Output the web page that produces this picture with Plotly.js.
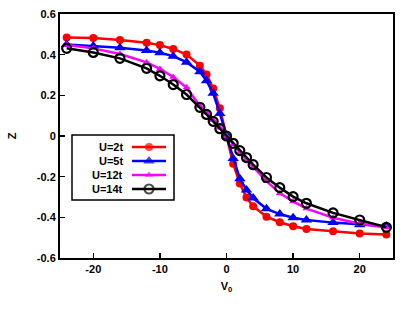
<!DOCTYPE html>
<html>
<head>
<meta charset="utf-8">
<script src="https://cdn.plot.ly/plotly-3.0.1.min.js"></script>
<style>html,body{margin:0;padding:0;background:#fff;}#chart{width:415px;height:310px;}</style>
</head>
<body>
<div id="chart"></div>
<script>
const V0 = [-24,-20,-16,-12,-10,-8,-6,-4,-3,-2,-1,0,1,2,3,4,6,8,10,12,16,20,24];
const zU2  = [0.485,0.482,0.472,0.459,0.447,0.428,0.401,0.346,0.303,0.234,0.136,0,-0.136,-0.234,-0.303,-0.346,-0.397,-0.424,-0.444,-0.457,-0.469,-0.479,-0.485];
const zU5  = [0.450,0.443,0.434,0.420,0.410,0.392,0.363,0.316,0.272,0.210,0.111,0,-0.111,-0.210,-0.265,-0.305,-0.358,-0.384,-0.402,-0.413,-0.426,-0.436,-0.444];
const zU12 = [0.447,0.431,0.403,0.362,0.330,0.290,0.238,0.148,0.114,0.079,0.040,0,-0.040,-0.079,-0.117,-0.152,-0.222,-0.282,-0.322,-0.357,-0.402,-0.432,-0.450];
const zU14 = [0.431,0.411,0.382,0.333,0.296,0.253,0.204,0.141,0.106,0.072,0.036,0,-0.036,-0.072,-0.106,-0.141,-0.204,-0.254,-0.298,-0.331,-0.378,-0.413,-0.449];
const names = ['U=2t','U=5t','U=12t','U=14t'];
const yTicks = [-0.6,-0.4,-0.2,0,0.2,0.4,0.6];
const yTickText = ['-0.6','-0.4','-0.2','0','0.2','0.4','0.6'];
const xTicks = [-20,-10,0,10,20];
const xTickText = ['-20','-10','0','10','20'];

const series = [zU2, zU5, zU12, zU14];
const colors = ['#ff0000','#0000ff','#ff00ff','#000000'];
const symbols = ['circle','triangle-up','triangle-up','circle-open'];
const sizes = [8, 10, 7, 9];

const font = {family:'Liberation Sans, Arial, sans-serif', size:11, color:'#000', weight:'bold'};

const traces = series.map((ys, i) => ({
  x: V0, y: ys, name: names[i], mode: 'lines+markers', showlegend: false,
  line: {color: colors[i], width: 2.5},
  marker: {symbol: symbols[i], size: sizes[i], color: colors[i],
           line: {width: i === 3 ? 2.2 : 0, color: colors[i]}}
}));

// custom legend (text left of sample, as in the reference) on a pixel-like overlay axis
const legLeft = 72, legRight = 174, legTop = 135, legBottom = 200;
const rowY = [147, 161, 175, 189];
const sampleX = [132, 149, 166];
const annotations = [];
names.forEach((nm, i) => {
  traces.push({
    x: sampleX, y: [rowY[i], rowY[i], rowY[i]], xaxis: 'x2', yaxis: 'y2',
    mode: 'lines+markers', showlegend: false, hoverinfo: 'skip',
    line: {color: colors[i], width: 2.5},
    marker: {symbol: symbols[i], size: [0, sizes[i], 0], color: colors[i],
             line: {width: i === 3 ? 2.2 : 0, color: colors[i]}}
  });
  annotations.push({
    x: 125, y: rowY[i], xref: 'x2', yref: 'y2', text: nm, showarrow: false,
    xanchor: 'right', yanchor: 'middle', font: font
  });
});

const layout = {
  width:415, height:310,
  margin:{l:60, r:22, t:14, b:52},
  paper_bgcolor:'#fff', plot_bgcolor:'#fff',
  font: font,
  showlegend:false,
  xaxis:{
    range:[-25,25], tickvals:xTicks, ticktext:xTickText,
    ticks:'inside', ticklen:5, tickwidth:1.5, tickcolor:'#000',
    showgrid:false, zeroline:false,
    showline:true, linecolor:'#000', linewidth:2, mirror:true,
    tickfont:font,
    title:{text:'V<sub>0</sub>', font:font, standoff:8}
  },
  yaxis:{
    range:[-0.6,0.6], tickvals:yTicks, ticktext:yTickText,
    ticks:'inside', ticklen:5, tickwidth:1.5, tickcolor:'#000',
    showgrid:false, zeroline:false,
    showline:true, linecolor:'#000', linewidth:2, mirror:true,
    tickfont:font,
    title:{text:'Z', font:font, standoff:18}
  },
  xaxis2:{overlaying:'x', range:[60,393], visible:false, fixedrange:true},
  yaxis2:{overlaying:'y', range:[258,14], visible:false, fixedrange:true},
  shapes:[{
    type:'rect', xref:'x2', yref:'y2', x0:legLeft, x1:legRight, y0:legTop, y1:legBottom,
    line:{color:'#000', width:1.5}, fillcolor:'#fff', layer:'below'
  }],
  annotations: annotations
};

Plotly.newPlot('chart', traces, layout, {displayModeBar:false, staticPlot:true});
</script>
</body>
</html>
